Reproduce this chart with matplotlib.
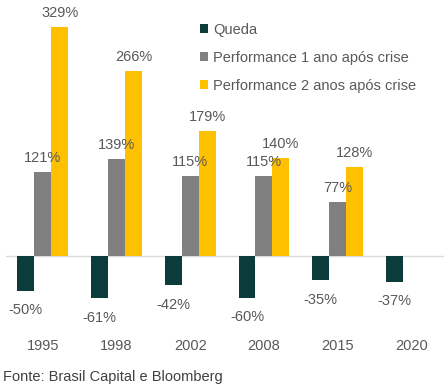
import matplotlib.pyplot as plt
import numpy as np

plt.rcParams['font.family'] = ['Liberation Sans', 'DejaVu Sans']

anos = ["1995", "1998", "2002", "2008", "2015", "2020"]
queda = [-50, -61, -42, -60, -35, -37]
perf_1ano = [121, 139, 115, 115, 77, None]
perf_2anos = [329, 266, 179, 140, 128, None]

cor_queda = "#0b3b3a"
cor_1ano = "#808080"
cor_2anos = "#ffc000"
cor_texto = "#595959"

fig = plt.figure(figsize=(4.44, 3.91), dpi=100)
# eixo posicionado em pixels da figura
ax = fig.add_axes([6 / 444, 1 - 335 / 391, 438 / 444, (335 - 19) / 391])

x = np.arange(len(anos))
w = 0.23

series = [
    (queda, cor_queda, "Queda", -w),
    (perf_1ano, cor_1ano, "Performance 1 ano após crise", 0),
    (perf_2anos, cor_2anos, "Performance 2 anos após crise", w),
]

for valores, cor, nome, desloc in series:
    xs = [xi + desloc for xi, v in zip(x, valores) if v is not None]
    vs = [v for v in valores if v is not None]
    ax.bar(xs, vs, width=w, color=cor, label=nome)
    for xi, v in zip(xs, vs):
        if v >= 0:
            ax.annotate(f"{v}%", (xi, v), xytext=(0, 5), textcoords="offset points",
                        ha="center", va="bottom", fontsize=10.5, color=cor_texto)
        else:
            ax.annotate(f"{v}%", (xi, v), xytext=(0, -9), textcoords="offset points",
                        ha="center", va="top", fontsize=10.5, color=cor_texto)

ax.axhline(0, color="#d9d9d9", lw=1, zorder=0)
ax.set_xlim(-0.5, -0.5 + 438 / 73.7)
ax.set_ylim(-113.5, 340)
ax.set_xticks(x)
ax.set_xticklabels(anos, fontsize=10.5, color=cor_texto)
ax.tick_params(axis="x", length=0, pad=3)
ax.set_yticks([])
for s in ax.spines.values():
    s.set_visible(False)

ax.legend(loc="upper left", bbox_to_anchor=(200 / 444, 1 - 23 / 391),
          bbox_transform=fig.transFigure, frameon=False, fontsize=10.5,
          handlelength=0.55, handleheight=0.55, handletextpad=0.35,
          labelspacing=0.95, labelcolor=cor_texto, borderaxespad=0, borderpad=0)

fig.text(3 / 444, 1 - 377 / 391, "Fonte: Brasil Capital e Bloomberg",
         fontsize=10.5, color="#404040", va="center", ha="left")

fig.savefig("out.png", dpi=100)
